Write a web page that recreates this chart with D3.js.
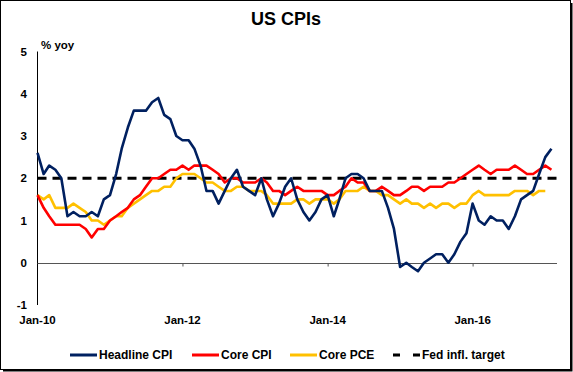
<!DOCTYPE html>
<html>
<head>
  <meta charset="utf-8">
  <title>US CPIs</title>
  <style>
    body { margin: 0; background: #fff; }
    svg { display: block; font-family: "Liberation Sans", Arial, sans-serif; }
    .tick-label { font-size: 11.5px; font-weight: bold; fill: #000; }
    .legend text { font-size: 12px; font-weight: bold; fill: #000; }
    .series { fill: none; stroke-width: 2.6px; stroke-linejoin: round; }
  </style>
  <script src="https://d3js.org/d3.v7.min.js"></script>
</head>
<body>
  <script>
    // monthly, Jan-10 .. Feb-17, % yoy
    var startMonth = "2010-01";
    var headlineCPI = [
      2.6, 2.1, 2.3, 2.2, 2.0, 1.1, 1.2, 1.1, 1.1, 1.2, 1.1, 1.5,
      1.6, 2.1, 2.7, 3.2, 3.6, 3.6, 3.6, 3.8, 3.9, 3.5, 3.4, 3.0,
      2.9, 2.9, 2.7, 2.3, 1.7, 1.7, 1.4, 1.7, 2.0, 2.2, 1.8, 1.7,
      1.6, 2.0, 1.5, 1.1, 1.4, 1.8, 2.0, 1.5, 1.2, 1.0, 1.2, 1.5,
      1.6, 1.1, 1.5, 2.0, 2.1, 2.1, 2.0, 1.7, 1.7, 1.7, 1.3, 0.8,
      -0.1, 0.0, -0.1, -0.2, 0.0, 0.1, 0.2, 0.2, 0.0, 0.2, 0.5, 0.7,
      1.4, 1.0, 0.9, 1.1, 1.0, 1.0, 0.8, 1.1, 1.5, 1.6, 1.7, 2.1,
      2.5, 2.7
    ];
    var coreCPI = [
      1.6, 1.3, 1.1, 0.9, 0.9, 0.9, 0.9, 0.9, 0.8, 0.6, 0.8, 0.8,
      1.0, 1.1, 1.2, 1.3, 1.5, 1.6, 1.8, 2.0, 2.0, 2.1, 2.2, 2.2,
      2.3, 2.2, 2.3, 2.3, 2.3, 2.2, 2.1, 1.9, 2.0, 2.0, 1.9, 1.9,
      1.9, 2.0, 1.9, 1.7, 1.7, 1.6, 1.7, 1.8, 1.7, 1.7, 1.7, 1.7,
      1.6, 1.6, 1.7, 1.8, 2.0, 1.9, 1.9, 1.7, 1.7, 1.8, 1.7, 1.6,
      1.6, 1.7, 1.8, 1.8, 1.7, 1.8, 1.8, 1.8, 1.9, 1.9, 2.0, 2.1,
      2.2, 2.3, 2.2, 2.1, 2.2, 2.2, 2.2, 2.3, 2.2, 2.1, 2.1, 2.2,
      2.3, 2.2
    ];
    var corePCE = [
      1.6, 1.5, 1.6, 1.3, 1.3, 1.3, 1.4, 1.3, 1.2, 1.0, 1.0, 0.9,
      1.0, 1.1, 1.1, 1.3, 1.4, 1.5, 1.6, 1.7, 1.7, 1.8, 1.8, 2.0,
      2.1, 2.1, 2.1, 2.0, 1.9, 1.9, 1.8, 1.7, 1.7, 1.8, 1.8, 1.7,
      1.7, 1.7, 1.6, 1.4, 1.4, 1.4, 1.4, 1.5, 1.5, 1.4, 1.5, 1.5,
      1.5, 1.4, 1.5, 1.7, 1.7, 1.7, 1.8, 1.7, 1.7, 1.6, 1.6, 1.5,
      1.4, 1.5, 1.4, 1.4, 1.3, 1.4, 1.3, 1.4, 1.4, 1.3, 1.4, 1.4,
      1.6, 1.7, 1.6, 1.6, 1.6, 1.6, 1.6, 1.7, 1.7, 1.7, 1.6, 1.7,
      1.7
    ];
    var fedTarget = 2;
    var yTicks = [-1, 0, 1, 2, 3, 4, 5];
    var xTickLabels = ["Jan-10", "Jan-12", "Jan-14", "Jan-16"];
    var legendNames = ["Headline CPI", "Core CPI", "Core PCE", "Fed infl. target"];

    var width = 573, height = 372;
    var parse = d3.timeParse("%Y-%m");
    var start = parse(startMonth);
    var dateOf = function(i) { return d3.timeMonth.offset(start, i); };

    var svg = d3.select("body").append("svg")
      .attr("width", width)
      .attr("height", height);

    // outer frame
    svg.append("rect")
      .attr("x", 0.5).attr("y", 0.5)
      .attr("width", width - 3).attr("height", height - 3)
      .attr("fill", "#fff").attr("stroke", "#000");
    svg.append("path")
      .attr("d", "M" + (width - 1.5) + ",3V" + (height - 1.5) + "H3")
      .attr("fill", "none").attr("stroke", "#000").attr("stroke-width", 2);

    var x = d3.scaleTime()
      .domain([start, d3.timeMonth.offset(start, 86)])
      .range([37.5, 557]);
    var y = d3.scaleLinear().domain([-1, 5]).range([305, 51.5]);

    svg.append("text")
      .attr("x", 286).attr("y", 25)
      .attr("text-anchor", "middle")
      .style("font-size", "18px").style("font-weight", "bold")
      .text("US CPIs");

    svg.append("text")
      .attr("x", 41).attr("y", 49)
      .style("font-size", "11.5px").style("font-weight", "bold")
      .text("% yoy");

    // y axis
    svg.append("line")
      .attr("x1", 37.5).attr("x2", 37.5)
      .attr("y1", y(5)).attr("y2", y(-1))
      .attr("stroke", "#000").attr("stroke-width", 1);
    svg.selectAll(".ylab").data(yTicks).enter().append("text")
      .attr("class", "tick-label")
      .attr("x", 27).attr("y", function(d) { return y(d) + 4; })
      .attr("text-anchor", "end")
      .text(function(d) { return d; });

    // x axis at zero
    var xAxis = d3.axisBottom(x)
      .tickValues(xTickLabels.map(function(_, i) { return dateOf(i * 24); }))
      .tickSize(3)
      .tickFormat("");
    var xg = svg.append("g")
      .attr("transform", "translate(0," + Math.round(y(0)) + ".5)")
      .call(xAxis);
    xg.select(".domain").attr("stroke", "#555").attr("d", "M37.5,0H557");
    xg.selectAll(".tick line").attr("stroke", "#555");
    xg.selectAll(".tick").filter(function(d, i) { return i === 0; }).select("line").remove();

    svg.selectAll(".xlab").data(xTickLabels).enter().append("text")
      .attr("class", "tick-label")
      .attr("x", function(d, i) { return x(dateOf(i * 24)); })
      .attr("y", 324)
      .attr("text-anchor", "middle")
      .text(function(d) { return d; });

    // fed target
    svg.append("line")
      .attr("x1", x(dateOf(0))).attr("x2", x(dateOf(86)))
      .attr("y1", y(fedTarget)).attr("y2", y(fedTarget))
      .attr("stroke", "#000").attr("stroke-width", 2.8)
      .attr("stroke-dasharray", "9,6");

    var line = d3.line()
      .x(function(d, i) { return x(dateOf(i)); })
      .y(function(d) { return y(d); });

    var series = [
      { name: legendNames[2], values: corePCE, color: "#ffc000" },
      { name: legendNames[1], values: coreCPI, color: "#ff0000" },
      { name: legendNames[0], values: headlineCPI, color: "#002060" }
    ];
    svg.selectAll(".series").data(series).enter().append("path")
      .attr("class", "series")
      .attr("stroke", function(d) { return d.color; })
      .attr("d", function(d) { return line(d.values); });

    // legend
    var legendItems = [
      { name: legendNames[0], color: "#002060", x: 70, dash: null },
      { name: legendNames[1], color: "#ff0000", x: 192, dash: null },
      { name: legendNames[2], color: "#ffc000", x: 290, dash: null },
      { name: legendNames[3], color: "#000", x: 393, dash: "7,13" }
    ];
    var lg = svg.append("g").attr("class", "legend");
    var item = lg.selectAll("g").data(legendItems).enter().append("g")
      .attr("transform", function(d) { return "translate(" + d.x + ",355)"; });
    item.append("line")
      .attr("x1", 0).attr("x2", 27)
      .attr("stroke", function(d) { return d.color; })
      .attr("stroke-width", 3)
      .attr("stroke-dasharray", function(d) { return d.dash; });
    item.append("text")
      .attr("x", 29).attr("y", 4)
      .text(function(d) { return d.name; });
  </script>
</body>
</html>
